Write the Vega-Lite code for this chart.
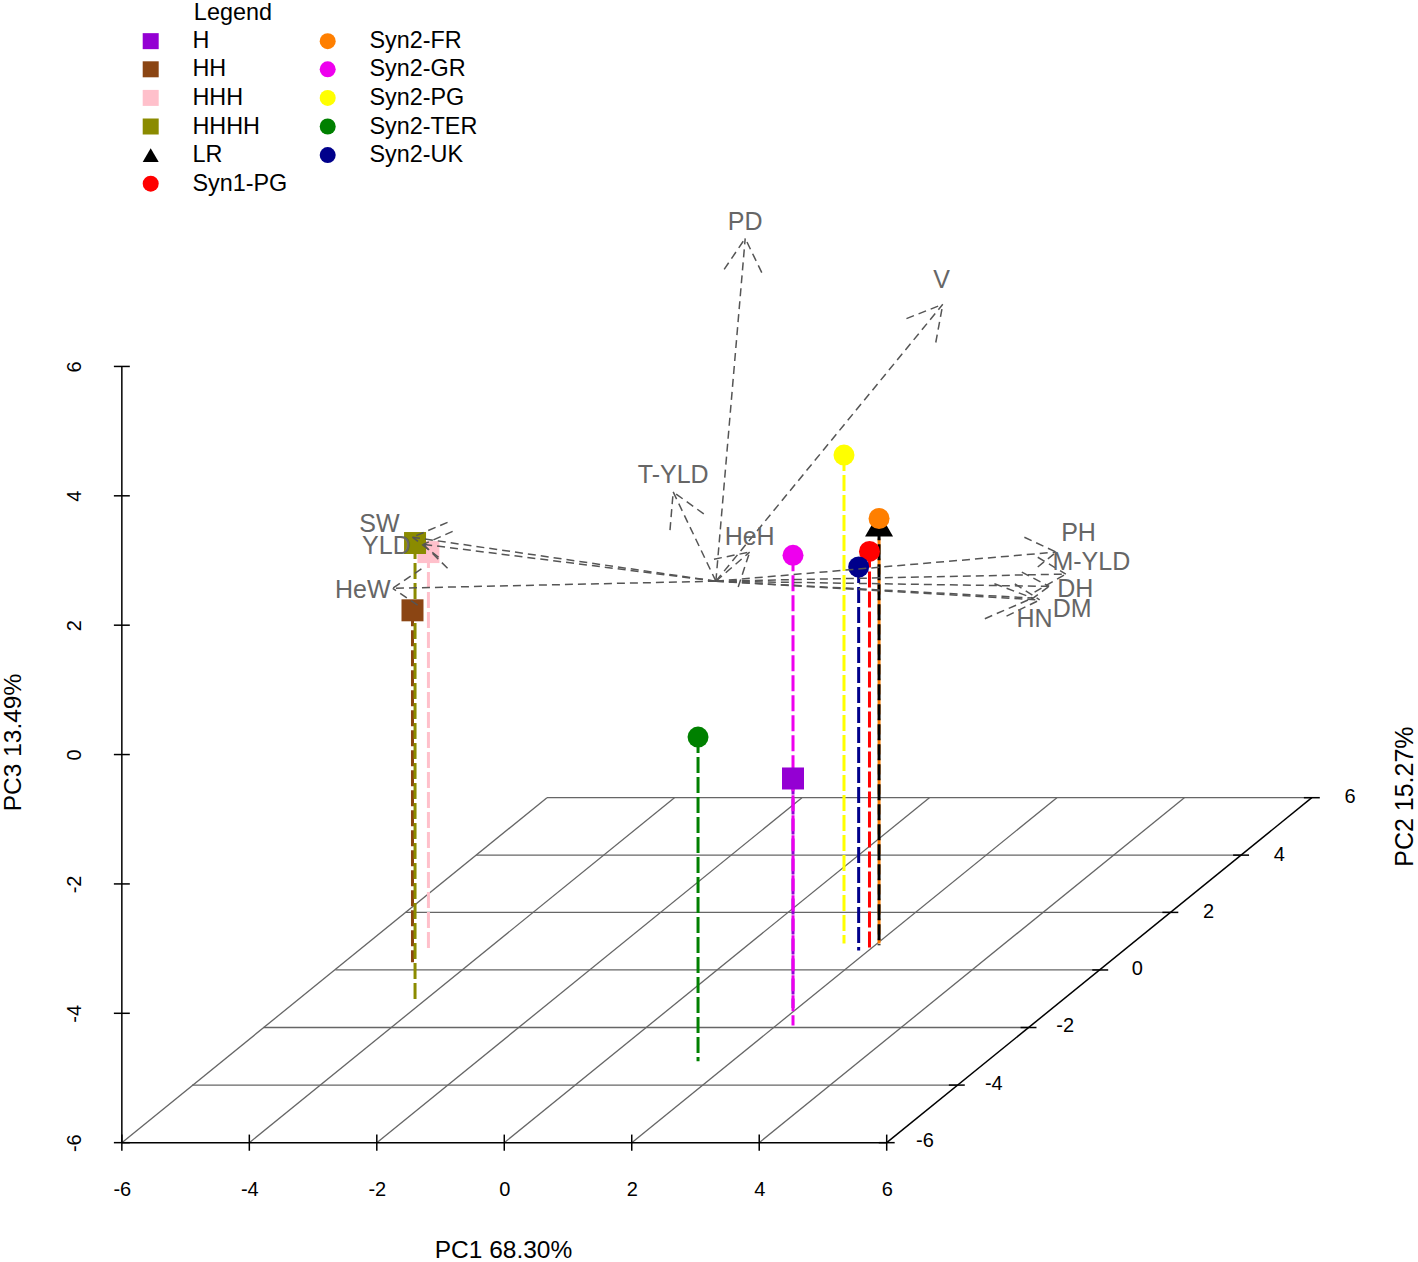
{"$schema":"https://vega.github.io/schema/vega-lite/v6.json","width":1418,"height":1262,"autosize":{"type":"fit","contains":"padding"},"padding":0,"background":"white","config":{"view":{"stroke":null},"font":"Liberation Sans"},
"datasets":{
"grid":[{"x":-4.9,"y":-5.11,"x2":7.1,"y2":-5.11},{"x":-3.775,"y":-4.22,"x2":8.225,"y2":-4.22},{"x":-2.65,"y":-3.33,"x2":9.35,"y2":-3.33},{"x":-1.55,"y":-2.44,"x2":10.45,"y2":-2.44},{"x":-0.44,"y":-1.555,"x2":11.56,"y2":-1.555},{"x":0.67,"y":-0.667,"x2":12.67,"y2":-0.667},{"x":-6,"y":-6,"x2":0.67,"y2":-0.667},{"x":-4,"y":-6,"x2":2.67,"y2":-0.667},{"x":-2,"y":-6,"x2":4.67,"y2":-0.667},{"x":0,"y":-6,"x2":6.67,"y2":-0.667},{"x":2,"y":-6,"x2":8.67,"y2":-0.667},{"x":4,"y":-6,"x2":10.67,"y2":-0.667}],
"frame":[{"x":-6,"y":-6,"x2":-6,"y2":6},{"x":-6,"y":-6,"x2":6,"y2":-6},{"x":6,"y":-6,"x2":12.67,"y2":-0.667},
{"x":-6.125,"y":-6,"x2":-5.875,"y2":-6},{"x":-6.125,"y":-4,"x2":-5.875,"y2":-4},{"x":-6.125,"y":-2,"x2":-5.875,"y2":-2},{"x":-6.125,"y":0,"x2":-5.875,"y2":0},{"x":-6.125,"y":2,"x2":-5.875,"y2":2},{"x":-6.125,"y":4,"x2":-5.875,"y2":4},{"x":-6.125,"y":6,"x2":-5.875,"y2":6},
{"x":-6,"y":-6.125,"x2":-6,"y2":-5.875},{"x":-4,"y":-6.125,"x2":-4,"y2":-5.875},{"x":-2,"y":-6.125,"x2":-2,"y2":-5.875},{"x":0,"y":-6.125,"x2":0,"y2":-5.875},{"x":2,"y":-6.125,"x2":2,"y2":-5.875},{"x":4,"y":-6.125,"x2":4,"y2":-5.875},{"x":6,"y":-6.125,"x2":6,"y2":-5.875},
{"x":5.875,"y":-6,"x2":6.125,"y2":-6},{"x":6.975,"y":-5.11,"x2":7.225,"y2":-5.11},{"x":8.1,"y":-4.22,"x2":8.35,"y2":-4.22},{"x":9.225,"y":-3.33,"x2":9.475,"y2":-3.33},{"x":10.325,"y":-2.44,"x2":10.575,"y2":-2.44},{"x":11.435,"y":-1.555,"x2":11.685,"y2":-1.555},{"x":12.545,"y":-0.667,"x2":12.795,"y2":-0.667}],
"cultivars":[{"group":"H","x":4.53,"y":-0.37,"base":-3.92},{"group":"HH","x":-1.44,"y":2.23,"base":-3.21},{"group":"HHH","x":-1.19,"y":3.13,"base":-3.04},{"group":"HHHH","x":-1.4,"y":3.27,"base":-3.82},{"group":"Syn2-FR","x":5.88,"y":3.65,"base":-2.92},{"group":"LR","x":5.88,"y":3.56,"base":-2.95},{"group":"Syn1-PG","x":5.73,"y":3.14,"base":-3.03},{"group":"Syn2-GR","x":4.53,"y":3.08,"base":-4.19},{"group":"Syn2-PG","x":5.33,"y":4.63,"base":-2.92},{"group":"Syn2-TER","x":3.04,"y":0.27,"base":-4.74},{"group":"Syn2-UK","x":5.56,"y":2.9,"base":-3.03}],
"arrows":[
{"trait":"PD","x":3.32,"y":2.68,"x2":3.78,"y2":7.98},{"trait":"PD","x":3.45,"y":7.5,"x2":3.78,"y2":7.98},{"trait":"PD","x":4.04,"y":7.45,"x2":3.78,"y2":7.98},
{"trait":"V","x":3.32,"y":2.68,"x2":6.88,"y2":6.96},{"trait":"V","x":6.31,"y":6.74,"x2":6.88,"y2":6.96},{"trait":"V","x":6.77,"y":6.37,"x2":6.88,"y2":6.96},
{"trait":"T-YLD","x":3.32,"y":2.68,"x2":2.65,"y2":4.06},{"trait":"T-YLD","x":2.6,"y":3.47,"x2":2.65,"y2":4.06},{"trait":"T-YLD","x":3.13,"y":3.72,"x2":2.65,"y2":4.06},
{"trait":"HeH","x":3.32,"y":2.68,"x2":3.85,"y2":3.13},{"trait":"HeH","x":3.29,"y":3.02,"x2":3.85,"y2":3.13},{"trait":"HeH","x":3.67,"y":2.59,"x2":3.85,"y2":3.13},
{"trait":"SW","x":3.32,"y":2.68,"x2":-1.44,"y2":3.36},{"trait":"SW","x":-0.89,"y":3.59,"x2":-1.44,"y2":3.36},{"trait":"SW","x":-1.03,"y":3.05,"x2":-1.44,"y2":3.36},
{"trait":"YLD","x":3.32,"y":2.68,"x2":-1.27,"y2":3.25},{"trait":"YLD","x":-0.81,"y":3.45,"x2":-1.27,"y2":3.25},{"trait":"YLD","x":-0.89,"y":2.88,"x2":-1.27,"y2":3.25},
{"trait":"HeW","x":3.32,"y":2.68,"x2":-1.75,"y2":2.57},{"trait":"HeW","x":-1.3,"y":2.87,"x2":-1.75,"y2":2.57},{"trait":"HeW","x":-1.36,"y":2.31,"x2":-1.75,"y2":2.57},
{"trait":"PH","x":3.32,"y":2.68,"x2":8.66,"y2":3.13},{"trait":"PH","x":8.16,"y":3.36,"x2":8.66,"y2":3.13},{"trait":"PH","x":8.37,"y":2.9,"x2":8.66,"y2":3.13},
{"trait":"M-YLD","x":3.32,"y":2.68,"x2":8.81,"y2":2.79},{"trait":"M-YLD","x":8.37,"y":3.05,"x2":8.81,"y2":2.79},{"trait":"M-YLD","x":8.32,"y":2.51,"x2":8.81,"y2":2.79},
{"trait":"DH","x":3.32,"y":2.68,"x2":8.55,"y2":2.6},{"trait":"DH","x":8.12,"y":2.82,"x2":8.55,"y2":2.6},{"trait":"DH","x":8.27,"y":2.4,"x2":8.55,"y2":2.6},
{"trait":"DM","x":3.32,"y":2.68,"x2":8.4,"y2":2.39},{"trait":"DM","x":8.01,"y":2.64,"x2":8.4,"y2":2.39},{"trait":"DM","x":7.88,"y":2.14,"x2":8.4,"y2":2.39},
{"trait":"HN","x":3.32,"y":2.68,"x2":8.29,"y2":2.42},{"trait":"HN","x":7.69,"y":2.64,"x2":8.29,"y2":2.42},{"trait":"HN","x":7.54,"y":2.1,"x2":8.29,"y2":2.42}],
"traits":[{"trait":"PD","x":3.78,"y":8.24},{"trait":"V","x":6.86,"y":7.34},{"trait":"T-YLD","x":2.65,"y":4.32},{"trait":"HeH","x":3.85,"y":3.36},{"trait":"SW","x":-1.96,"y":3.56},{"trait":"YLD","x":-1.85,"y":3.22},{"trait":"HeW","x":-2.22,"y":2.54},{"trait":"PH","x":9.01,"y":3.42},{"trait":"M-YLD","x":9.21,"y":2.98},{"trait":"DH","x":8.96,"y":2.56},{"trait":"DM","x":8.91,"y":2.25},{"trait":"HN","x":8.32,"y":2.1}],
"depth":[{"label":"-6","x":6.6,"y":-5.98},{"label":"-4","x":7.68,"y":-5.1},{"label":"-2","x":8.8,"y":-4.2},{"label":"0","x":9.93,"y":-3.32},{"label":"2","x":11.05,"y":-2.43},{"label":"4","x":12.16,"y":-1.55},{"label":"6","x":13.27,"y":-0.65}],
"notes":[{"label":"Legend","x":-4.87,"y":11.465}],
"depthTitle":[{"label":"PC2 15.27%","x":14.13,"y":-0.65}]
},
"encoding":{
"x":{"field":"x","type":"quantitative","scale":{"domain":[-7.896,14.32],"nice":false,"zero":false},"axis":{"values":[-6,-4,-2,0,2,4,6],"domain":false,"ticks":false,"grid":false,"offset":-118,"labelFontSize":20,"labelColor":"#000","labelPadding":37,"labelExpr":"''+datum.value","labelOverlap":false,"labelFlush":false,"title":"PC1 68.30%","titleFontSize":24.5,"titleFontWeight":"normal","titleColor":"#000","titleX":502,"titleY":96}},
"y":{"field":"y","type":"quantitative","scale":{"domain":[-7.814,11.665],"nice":false,"zero":false},"axis":{"values":[-6,-4,-2,0,2,4,6],"domain":false,"ticks":false,"grid":false,"offset":-121,"labelFontSize":20,"labelColor":"#000","labelAngle":270,"labelPadding":38,"labelExpr":"''+datum.value","labelOverlap":false,"labelFlush":false,"title":"PC3 13.49%","titleFontSize":24.5,"titleFontWeight":"normal","titleColor":"#000","titleX":-97,"titleY":742}}
},
"layer":[
{"data":{"name":"grid"},"mark":{"type":"rule","stroke":"#666666","strokeWidth":1.3},"encoding":{"x2":{"field":"x2"},"y2":{"field":"y2"}}},
{"data":{"name":"frame"},"mark":{"type":"rule","stroke":"#000000","strokeWidth":1.5},"encoding":{"x2":{"field":"x2"},"y2":{"field":"y2"}}},
{"data":{"name":"cultivars"},"mark":{"type":"rule","strokeWidth":3,"strokeDash":[16,4]},"encoding":{"y2":{"field":"base"},
"color":{"field":"group","type":"nominal","scale":{"domain":["H","HH","HHH","HHHH","LR","Syn1-PG","Syn2-FR","Syn2-GR","Syn2-PG","Syn2-TER","Syn2-UK"],"range":["#9400D3","#8B4513","#FFC0CB","#8B8B00","#000000","#FF0000","#FF7F00","#EE00EE","#FFFF00","#008000","#00008B"]},"legend":{"orient":"none","legendX":138,"legendY":29,"title":null,"columns":2,"symbolSize":256,"symbolStrokeWidth":0,"labelFontSize":23.4,"labelColor":"#000","labelFont":"Liberation Sans","labelOffset":30,"rowPadding":3.6,"columnPadding":28,"labelLimit":200,"encoding":{"symbols":{"update":{"size":{"signal":"datum.value==='LR'?400:256"}}}}}}}},
{"data":{"name":"cultivars"},"transform":[{"filter":{"field":"group","oneOf":["H","HH","HHH","HHHH"]}}],"mark":{"type":"point","filled":true,"opacity":1,"size":484,"strokeWidth":0},"encoding":{"color":{"field":"group","type":"nominal"},"shape":{"field":"group","type":"nominal","scale":{"domain":["H","HH","HHH","HHHH","LR","Syn1-PG","Syn2-FR","Syn2-GR","Syn2-PG","Syn2-TER","Syn2-UK"],"range":["square","square","square","square","triangle-up","circle","circle","circle","circle","circle","circle"]}}}},
{"data":{"name":"cultivars"},"transform":[{"filter":{"field":"group","oneOf":["LR"]}}],"mark":{"type":"point","filled":true,"opacity":1,"size":784,"strokeWidth":0},"encoding":{"color":{"field":"group","type":"nominal"},"shape":{"field":"group","type":"nominal"}}},
{"data":{"name":"cultivars"},"transform":[{"filter":{"field":"group","oneOf":["Syn2-FR","Syn1-PG","Syn2-GR","Syn2-PG","Syn2-TER","Syn2-UK"]}}],"mark":{"type":"point","filled":true,"opacity":1,"size":441,"strokeWidth":0},"encoding":{"color":{"field":"group","type":"nominal"},"shape":{"field":"group","type":"nominal"}}},
{"data":{"name":"arrows"},"mark":{"type":"rule","stroke":"#555555","strokeWidth":1.5,"strokeDash":[8,5]},"encoding":{"x2":{"field":"x2"},"y2":{"field":"y2"},"detail":{"field":"trait"}}},
{"data":{"name":"traits"},"mark":{"type":"text","fontSize":25,"align":"center","baseline":"middle","color":"#666666"},"encoding":{"text":{"field":"trait"}}},
{"data":{"name":"depth"},"mark":{"type":"text","fontSize":20,"align":"center","baseline":"middle","color":"#000000"},"encoding":{"text":{"field":"label"}}},
{"data":{"name":"notes"},"mark":{"type":"text","fontSize":23.4,"align":"left","baseline":"middle","color":"#000000"},"encoding":{"text":{"field":"label"}}},
{"data":{"name":"depthTitle"},"mark":{"type":"text","fontSize":25,"align":"center","baseline":"middle","angle":270,"color":"#000000"},"encoding":{"text":{"field":"label"}}}
]}
